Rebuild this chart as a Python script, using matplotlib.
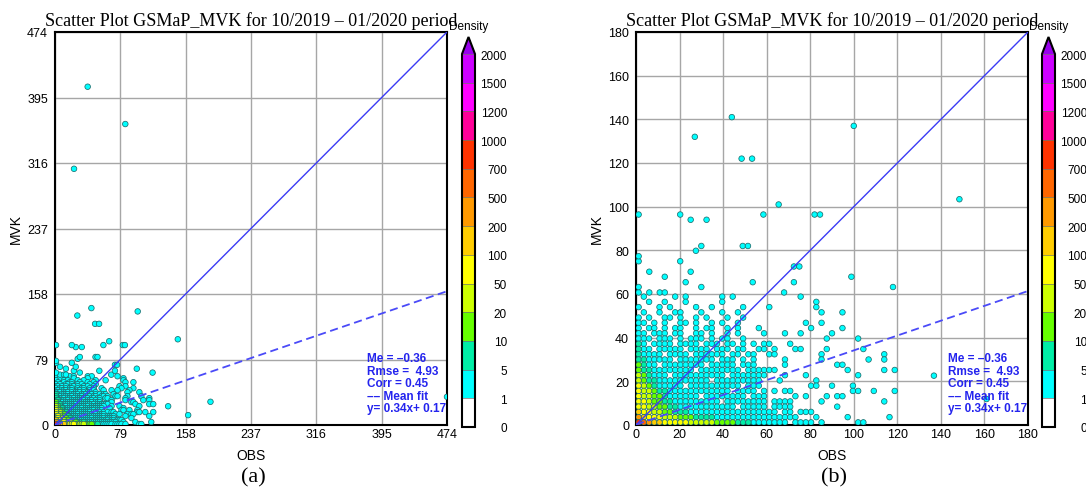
import numpy as np
import matplotlib
matplotlib.use("Agg")
import matplotlib.pyplot as plt
from matplotlib.colors import ListedColormap, BoundaryNorm
from matplotlib.cm import ScalarMappable

plt.rcParams["font.family"] = ["Liberation Sans", "DejaVu Sans"]

TITLE = "Scatter Plot GSMaP_MVK for 10/2019 \u2013 01/2020 period"
PANEL_TAGS = ["(a)", "(b)"]
X_LABEL = "OBS"
Y_LABEL = "MVK"
AXIS_MAX = [474, 180]
TICKS_A = [0, 79, 158, 237, 316, 395, 474]
TICKS_B = [0, 20, 40, 60, 80, 100, 120, 140, 160, 180]

DENSITY_LEVELS = [0, 1, 5, 10, 20, 50, 100, 200, 500, 700, 1000, 1200, 1500, 2000]
DENSITY_COLORS = ["#ffffff", "#00ffff", "#00eea6", "#66ff00", "#ccff00", "#ffff00",
                  "#ffcc00", "#ff9900", "#ff6600", "#ff3300", "#ff0099", "#ff00ff",
                  "#cc00ff"]
DENSITY_OVER = "#9900ee"

# verification scores
ME, RMSE, CORR = -0.36, 4.93, 0.45
FIT_SLOPE, FIT_INTERCEPT = 0.34, 0.17

# Binned (OBS, MVK) pairs, bin width CELL mm; first string = highest MVK bin.
# Each character gives the density class of the pairs in that bin.
CELL = 2.4
CLASS_DENSITY = {"c": 2, "t": 7, "g": 15, "l": 30, "y": 70,
                 "o": 150, "O": 300, "d": 600, "r": 800}

# OBS bins 0..24 (0 - 60 mm)
BINS_NEAR = [
    ".c.....c.c......c.c......",
    "..c..c...c......c........",
    "c...c.c....c..c.....c....",
    ".c..c..cc...c...c..c.....",
    "c.c..cc.c..c.c...c..c....",
    "cc.c.c..cc.c..c.c..c.....",
    "c.cc.c.cc..c.cc..c.c...c.",
    "cc.ccc.cc..cc.c..c.c....c",
    "ccc.ccc.c.ccc.c.cc..c....",
    "tc.cccc.cccc.ccc.cc.c.c.c",
    "tcc.ccccc.cccc.ccc.cc..cc",
    "tcccc.cccc.cccccc.cc.cc..",
    "ttccccc.ccccccc.ccc.c.c..",
    "gtcc.cccccccc.ccccc.ccc..",
    "gttcccccccc.cccccccc.cccc",
    "lgtccc.cccccccccc.ccccccc",
    "lgttcccccccccc.ccccccccc.",
    "ylgtccccc.cccccccccc.ccc.",
    "yllgttcccccccccccc.cccc.c",
    "yllggtcccccc.cccccccc.ccc",
    "yylggttccccccccc.cccccccc",
    "yyllggttccccccccccc.ccccc",
    "oyyllggtttccccccccccccccc",
    "Ooyyylllgggttttcccccccccc",
    "rdOooyyyyylllllggggtttccc",
]

# OBS bins 25..49 (60 - 120 mm)
BINS_FAR = [
    "......c..................",
    ".........c...............",
    "c........c...............",
    "..........c...c..........",
    ".........................",
    ".......c..c..............",
    "........c.....c..........",
    "...c..c.....c............",
    "...........c.....c.......",
    "c...c....................",
    ".c...cc....c......c......",
    "cc........c...........c..",
    "...c......c........c..c..",
    "...c.........cc..........",
    "cc.............c......c.c",
    "...c...c.........c.......",
    "..c......c...............",
    "........cc..c...c........",
    ".c.cc...........cc..c...c",
    ".....c.c...c.cc..........",
    ".cccc.....c...........c..",
    ".cccc........c...........",
    "cc.cc.ccc................",
    "cccccc...c.....c.......c.",
    "cccc.cccc.c......cc......",
]

# isolated pairs outside the binned block (all in the lowest density class)
SPARSE_OBS = [1.2, 6.1, 10.9, 13.2, 68.0, 1.2, 30.0, 118.0, 22.8, 53.6, 72.5,
              13.2, 98.9, 6.1, 25.1, 72.5, 75.0, 1.2, 1.2, 20.3, 27.5, 30.0,
              49.0, 51.4, 25.1, 32.4, 1.2, 20.3, 58.5, 82.0, 84.5, 65.5, 48.5,
              53.3, 27.0, 44.0, 100.0, 148.5, 136.8, 161.0, 188.0, 474.0, 23.0,
              39.5, 85.0]
SPARSE_MVK = [60.7, 60.7, 60.7, 60.7, 60.7, 63.2, 63.2, 63.2, 65.4, 65.4, 65.4,
              67.9, 67.9, 70.2, 70.2, 72.6, 72.6, 75.0, 77.3, 75.0, 79.8, 82.0,
              82.0, 82.0, 94.0, 94.0, 96.4, 96.4, 96.4, 96.4, 96.4, 101.0, 122.0,
              122.0, 132.0, 141.0, 137.0, 103.4, 22.6, 11.9, 28.0, 34.0, 309.0,
              408.0, 363.0]
SPARSE_DENSITY = [2] * len(SPARSE_OBS)


def collect_pairs():
    assert len(BINS_NEAR) == len(BINS_FAR)
    obs, mvk, dens = [], [], []
    n_rows = len(BINS_NEAR)
    for r, (near, far) in enumerate(zip(BINS_NEAR, BINS_FAR)):
        assert len(near) == 25 and len(far) == 25, r
        j = n_rows - 1 - r
        for i, ch in enumerate(near + far):
            if ch in CLASS_DENSITY:
                obs.append((i + 0.5) * CELL)
                mvk.append((j + 0.5) * CELL)
                dens.append(CLASS_DENSITY[ch])
    obs += SPARSE_OBS
    mvk += SPARSE_MVK
    dens += SPARSE_DENSITY
    return np.array(obs), np.array(mvk), np.array(dens, dtype=float)


obs, mvk, dens = collect_pairs()
order = np.argsort(dens, kind="stable")
obs, mvk, dens = obs[order], mvk[order], dens[order]

cmap = ListedColormap(DENSITY_COLORS).with_extremes(over=DENSITY_OVER)
norm = BoundaryNorm(DENSITY_LEVELS, ncolors=len(DENSITY_COLORS))

stats_text = "\n".join([
    f"Me = {ME:.2f}".replace("-", "\u2013"),
    f"Rmse =  {RMSE:.2f}",
    f"Corr = {CORR:.2f}",
    "\u2013\u2013 Mean fit",
    f"y= {FIT_SLOPE:.2f}x+ {FIT_INTERCEPT:.2f}",
])

W, H = 1086, 489
fig = plt.figure(figsize=(W / 100, H / 100), dpi=100)

panels = [
    dict(left=55, lim=AXIS_MAX[0], ticks=TICKS_A, cbar_left=462, tag=PANEL_TAGS[0]),
    dict(left=636, lim=AXIS_MAX[1], ticks=TICKS_B, cbar_left=1042, tag=PANEL_TAGS[1]),
]

ax_w, ax_top, ax_bottom = 392, 33, 426

for p in panels:
    ax = fig.add_axes([p["left"] / W, (H - ax_bottom) / H, ax_w / W, (ax_bottom - ax_top) / H])
    lim = p["lim"]
    ax.scatter(obs, mvk, c=dens, cmap=cmap, norm=norm, s=16,
               edgecolors="#1d6d6d", linewidths=0.55, zorder=3)
    xs = np.array([0.0, lim])
    ax.plot(xs, xs, color="#3b3bf5", lw=1.0, zorder=4)
    ax.plot(xs, FIT_SLOPE * xs + FIT_INTERCEPT, color="#4a4af8", lw=1.3,
            ls=(0, (4.5, 2.5)), zorder=4)
    ax.set_xlim(0, lim)
    ax.set_ylim(0, lim)
    ax.set_xticks(p["ticks"])
    ax.set_yticks(p["ticks"])
    ax.grid(True, color="#a6a6a6", lw=1.0)
    ax.set_axisbelow(True)
    ax.tick_params(axis="both", length=0, labelsize=9)
    ax.tick_params(axis="x", pad=2)
    ax.tick_params(axis="y", pad=5)
    for s in ax.spines.values():
        s.set_linewidth(1.5)
    ax.set_xlabel(X_LABEL, fontsize=10)
    ax.set_ylabel(Y_LABEL, fontsize=10)
    ax.xaxis.set_label_coords(0.5, -0.058)
    ax.yaxis.set_label_coords(-0.083, 0.5)
    ax.set_title(TITLE, family=["Liberation Serif", "DejaVu Serif"], fontsize=13, pad=5)
    ax.text(0.797, 0.185, stats_text, transform=ax.transAxes, color="#2424ee",
            fontweight="bold", fontsize=8.5, va="top", ha="left", linespacing=1.05,
            zorder=6)

    cax = fig.add_axes([p["cbar_left"] / W, (H - 428) / H, 13 / W, 390 / H])
    cb = fig.colorbar(ScalarMappable(norm=norm, cmap=cmap), cax=cax, extend="max",
                      extendfrac=17 / 373, spacing="uniform", drawedges=True)
    cb.set_ticks(DENSITY_LEVELS)
    cb.set_ticklabels([str(v) for v in DENSITY_LEVELS])
    cb.ax.tick_params(length=0, labelsize=8.5, pad=23)
    for lbl in cb.ax.get_yticklabels():
        lbl.set_horizontalalignment("right")
    cb.outline.set_linewidth(1.5)
    cb.dividers.set_linewidth(0.5)
    cb.dividers.set_color("#707070")
    fig.text((p["cbar_left"] + 6.5) / W, 1 - 27 / H, "Density", fontsize=8.5,
             ha="center", va="center")

    fig.text((p["left"] + ax_w / 2 + 2) / W, 1 - 478 / H, p["tag"],
             family=["Liberation Serif", "DejaVu Serif"], fontsize=16,
             ha="center", va="center")

fig.savefig("out.png", dpi=100)
